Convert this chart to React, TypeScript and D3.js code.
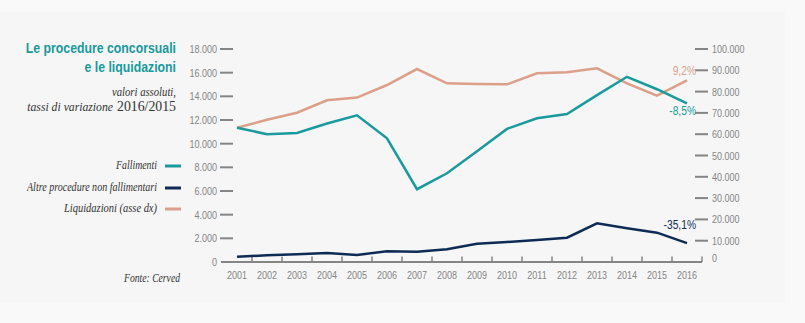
import React, { useEffect } from "react";
import * as d3 from "d3";

const years = ["2001","2002","2003","2004","2005","2006","2007","2008","2009","2010","2011","2012","2013","2014","2015","2016"];
const fallimenti = [11350, 10800, 10900, 11700, 12400, 10450, 6150, 7500, 9350, 11250, 12150, 12500, 14100, 15650, 14600, 13400];
const altre = [450, 560, 650, 760, 600, 900, 870, 1070, 1550, 1690, 1860, 2050, 3270, 2850, 2480, 1600];
const liquidazioni = [63000, 66800, 70100, 75900, 77200, 83100, 90600, 83900, 83600, 83400, 88600, 89100, 90900, 83900, 78100, 85300];
const leftTicks = [0, 2000, 4000, 6000, 8000, 10000, 12000, 14000, 16000, 18000];
const rightTicks = [0, 10000, 20000, 30000, 40000, 50000, 60000, 70000, 80000, 90000, 100000];
const legendItems = ["Fallimenti", "Altre procedure non fallimentari", "Liquidazioni (asse dx)"];
const changeLabels = ["-8,5%", "-35,1%", "9,2%"];

const TEAL = "#1a9a9c";
const NAVY = "#0d2b55";
const PINK = "#dc9f8a";
const GREY = "#858585";
const SANS = "'Liberation Sans', Arial, sans-serif";
const SERIF = "'Liberation Serif', 'DejaVu Serif', serif";
const SX = 0.82;

const fmt = (v: number) => d3.format(",")(v).replace(/,/g, ".");

type NProps = {
  x: number; y: number; anchor?: "start" | "middle" | "end"; fill: string;
  size: number; bold?: boolean; children: React.ReactNode;
};
function NText({ x, y, anchor = "start", fill, size, bold, children }: NProps) {
  return (
    <text transform={`translate(${x},${y}) scale(${SX},1)`} textAnchor={anchor} fill={fill}
      fontFamily={SANS} fontSize={size} fontWeight={bold ? "bold" : "normal"}>{children}</text>
  );
}

export default function App() {
  useEffect(() => {
    document.body.style.margin = "0";
  }, []);

  const x = d3.scaleBand<string>().domain(years).range([222, 702]).paddingInner(0).paddingOuter(0);
  const yL = d3.scaleLinear().domain([0, 18000]).range([262, 49]);
  const yR = d3.scaleLinear().domain([0, 100000]).range([262, 49]);
  const cx = (y: string) => (x(y) as number) + x.bandwidth() / 2;

  const lineL = d3.line<number>().x((_, i) => cx(years[i])).y((d) => yL(d));
  const lineR = d3.line<number>().x((_, i) => cx(years[i])).y((d) => yR(d));

  const colors = [TEAL, NAVY, PINK];
  const legendY = [166, 188, 209];
  const legendW = [41, 130, 93];
  const last = years.length - 1;

  return (
    <svg width={805} height={323} style={{ display: "block" }}>
      <rect x={0} y={0} width={805} height={323} fill="#f9f9f9" />
      <rect x={0} y={12} width={785} height={290} fill="#f6f6f6" />

      {/* title */}
      <NText x={176} y={53} anchor="end" fill={TEAL} size={15} bold>Le procedure concorsuali</NText>
      <NText x={176} y={72} anchor="end" fill={TEAL} size={15} bold>e le liquidazioni</NText>
      <text x={176} y={96} textAnchor="end" fill="#333" fontFamily={SERIF} fontStyle="italic" fontSize={13} textLength={64} lengthAdjust="spacingAndGlyphs">valori assoluti,</text>
      <text transform="translate(113,111) scale(0.9,1)" textAnchor="end" fill="#333" fontFamily={SERIF} fontStyle="italic" fontSize={13}>tassi di variazione</text>
      <text x={117} y={111} fill="#333" fontFamily={SERIF} fontSize={14} textLength={59} lengthAdjust="spacingAndGlyphs">2016/2015</text>

      {/* legend */}
      {legendItems.map((t, i) => (
        <g key={t}>
          <text x={157} y={legendY[i] + 3} textAnchor="end" fill="#333" fontFamily={SERIF} fontStyle="italic" fontSize={12} textLength={legendW[i]} lengthAdjust="spacingAndGlyphs">{t}</text>
          <line x1={165} x2={181} y1={legendY[i]} y2={legendY[i]} stroke={colors[i]} strokeWidth={3} />
        </g>
      ))}
      <text x={180} y={282} textAnchor="end" fill="#333" fontFamily={SERIF} fontStyle="italic" fontSize={12} textLength={56} lengthAdjust="spacingAndGlyphs">Fonte: Cerved</text>

      {/* left axis */}
      {leftTicks.map((t) => (
        <g key={"l" + t}>
          {t > 0 && <line x1={220} x2={233} y1={yL(t)} y2={yL(t)} stroke={GREY} strokeWidth={2} />}
          <NText x={217} y={yL(t) + 4} anchor="end" fill={GREY} size={11}>{fmt(t)}</NText>
        </g>
      ))}
      {/* right axis */}
      {rightTicks.map((t) => (
        <g key={"r" + t}>
          {t > 0 && <line x1={695} x2={708} y1={yR(t)} y2={yR(t)} stroke={GREY} strokeWidth={2} />}
          <NText x={712} y={yR(t) + (t > 0 ? 4 : 0)} fill={GREY} size={11}>{fmt(t)}</NText>
        </g>
      ))}

      {/* x axis */}
      <line x1={221} x2={702} y1={262} y2={262} stroke={GREY} strokeWidth={2} />
      {years.map((yr) => (
        <g key={yr}>
          <line x1={(x(yr) as number) + x.bandwidth()} x2={(x(yr) as number) + x.bandwidth()} y1={262} y2={256.5} stroke={GREY} strokeWidth={1.5} />
          <NText x={cx(yr)} y={279} anchor="middle" fill={GREY} size={11}>{yr}</NText>
        </g>
      ))}

      {/* lines */}
      <path d={lineR(liquidazioni) as string} fill="none" stroke={PINK} strokeWidth={2.5} />
      <path d={lineL(fallimenti) as string} fill="none" stroke={TEAL} strokeWidth={2.5} />
      <path d={lineL(altre) as string} fill="none" stroke={NAVY} strokeWidth={2.5} />

      {/* change labels */}
      <NText x={696} y={yL(fallimenti[last]) + 11.5} anchor="end" fill={TEAL} size={12.5}>{changeLabels[0]}</NText>
      <NText x={696} y={yL(altre[last]) - 14} anchor="end" fill={NAVY} size={12.5}>{changeLabels[1]}</NText>
      <NText x={696} y={yR(liquidazioni[last]) - 5} anchor="end" fill={PINK} size={12.5}>{changeLabels[2]}</NText>
    </svg>
  );
}
